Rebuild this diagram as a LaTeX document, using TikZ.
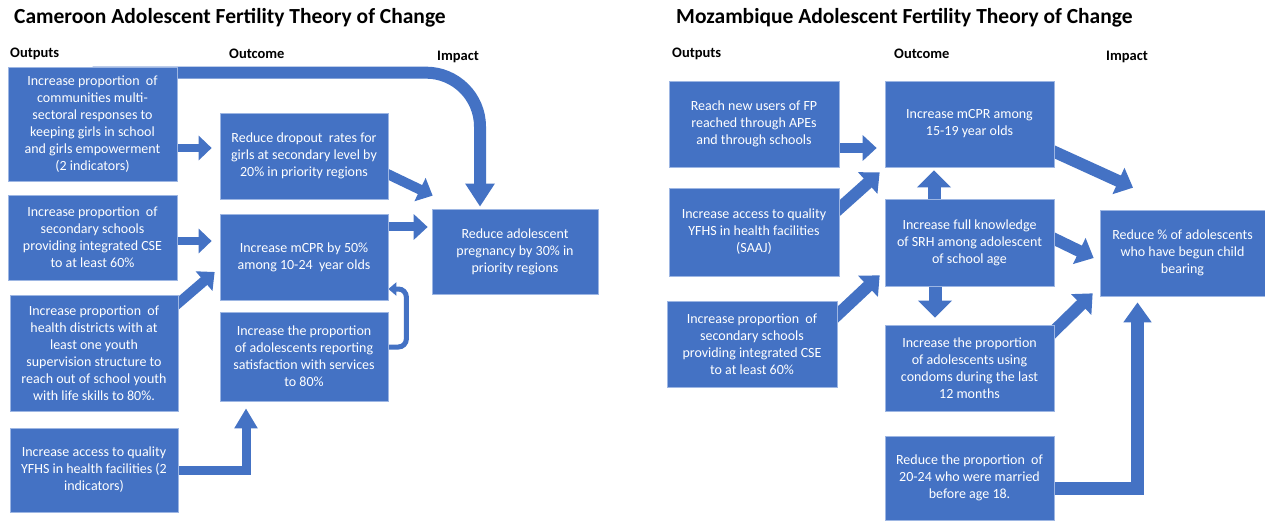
\documentclass[tikz,border=0pt]{standalone}
\usepackage{fontspec}
\setmainfont{Carlito}
\usetikzlibrary{arrows.meta,backgrounds,calc}
\definecolor{boxblue}{HTML}{4472C4}
\definecolor{edgeblue}{HTML}{9DB6E3}
\tikzset{
  box/.style={fill=boxblue, draw=edgeblue, line width=0.7pt, text=white, align=center,
    inner sep=0pt, font=\fontsize{14}{17}\selectfont},
  title/.style={anchor=west, inner sep=0pt, font=\fontsize{21.5}{24}\selectfont\bfseries},
  head/.style={anchor=west, inner sep=0pt, font=\fontsize{14.5}{16}\selectfont\bfseries},
  fat/.style={draw=boxblue, line width=10pt, -{Triangle[width=25pt,length=14pt]}},
  fatter/.style={draw=boxblue, line width=13pt, -{Triangle[width=33pt,length=17pt]}},
  slim/.style={draw=boxblue, line width=5pt, rounded corners=8pt, -{Triangle[width=13pt,length=8pt]}},
}
\begin{document}
\begin{tikzpicture}[x=1pt,y=-1pt]
\useasboundingbox (0,0) rectangle (1265,521);

% titles and headings
\node[title] (t1) at (14,18) {Cameroon Adolescent Fertility Theory of Change};
\node[title] (t2) at (676,18) {Mozambique Adolescent Fertility Theory of Change};
\node[head] (h1) at (10,54) {Outputs};
\node[head] (h2) at (229,54) {Outcome};
\node[head] (h3) at (437,57) {Impact};
\node[head] (h4) at (672,54) {Outputs};
\node[head] (h5) at (894,54) {Outcome};
\node[head] (h6) at (1106,57) {Impact};

% Cameroon boxes
\node[box, minimum width=169pt, minimum height=114pt] (A) at (92.5,124)
  {Increase proportion\ \ of\\communities multi-\\sectoral responses to\\keeping girls in school\\and girls empowerment\\(2 indicators)};
\node[box, minimum width=168pt, minimum height=86pt] (B) at (304,156)
  {Reduce dropout\ \ rates for\\girls at secondary level by\\20\% in priority regions};
\node[box, minimum width=169pt, minimum height=85pt] (C) at (92.5,237.5)
  {Increase proportion\ \ of\\secondary schools\\providing integrated CSE\\to at least 60\%};
\node[box, minimum width=168pt, minimum height=86pt] (D) at (304,257)
  {Increase mCPR by 50\%\\among 10-24\ \ year olds};
\node[box, minimum width=168pt, minimum height=116pt] (E) at (94,353)
  {Increase proportion\ \ of\\health districts with at\\least one youth\\supervision structure to\\reach out of school youth\\with life skills to 80\%.};
\node[box, minimum width=168pt, minimum height=89pt] (F) at (304,356.5)
  {Increase the proportion\\of adolescents reporting\\satisfaction with services\\to 80\%};
\node[box, minimum width=168pt, minimum height=84pt] (G) at (94,470)
  {Increase access to quality\\YFHS in health facilities (2\\indicators)};
\node[box, minimum width=166pt, minimum height=85pt] (H) at (515,251.5)
  {Reduce adolescent\\pregnancy by 30\% in\\priority regions};

% Mozambique boxes
\node[box, minimum width=170pt, minimum height=86pt] (R1) at (754,124)
  {Reach new users of FP\\reached through APEs\\and through schools};
\node[box, minimum width=170pt, minimum height=88pt] (R2) at (754,232)
  {Increase access to quality\\YFHS in health facilities\\(SAAJ)};
\node[box, minimum width=170pt, minimum height=86pt] (R3) at (752,344)
  {Increase proportion\ \ of\\secondary schools\\providing integrated CSE\\to at least 60\%};
\node[box, minimum width=169pt, minimum height=86pt] (R4) at (969.5,124)
  {Increase mCPR among\\15-19 year olds};
\node[box, minimum width=169pt, minimum height=87pt] (R5) at (969.5,242.5)
  {Increase full knowledge\\of SRH among adolescent\\of school age};
\node[box, minimum width=169pt, minimum height=86pt] (R6) at (969.5,368)
  {Increase the proportion\\of adolescents using\\condoms during the last\\12 months};
\node[box, minimum width=169pt, minimum height=84pt] (R8) at (969.5,478)
  {Reduce the proportion\ \ of\\20-24 who were married\\before age 18.};
\node[box, minimum width=165pt, minimum height=86pt] (R7) at (1182.5,253)
  {Reduce \% of adolescents\\who have begun child\\bearing};

\begin{scope}[on background layer]
\fill[white] (0,0) rectangle (1265,521);
% Cameroon connectors
\draw[fat, line width=12pt, rounded corners=54pt, -{Triangle[width=28pt,length=23pt]}, shorten >=2pt]
  ([yshift=-6pt]A.north) -| ([xshift=-35pt]H.north);
\draw[fat, line width=8pt, -{Triangle[width=24pt,length=13pt]}, shorten >=8pt]
  ([yshift=-24pt]A.east) -- ([yshift=-24pt]A.east -| B.west);
\draw[fat, line width=8pt, -{Triangle[width=24pt,length=13pt]}, shorten >=8pt]
  ([yshift=-3.5pt]C.east) -- ([yshift=-3.5pt]C.east -| D.west);
\draw[fat] ([xshift=-4pt,yshift=-12pt]E.north east) -- ([xshift=-5pt,yshift=-15pt]D.west);
\draw[fat] ([xshift=-5pt,yshift=-16pt]B.east) -- ([xshift=1pt,yshift=13pt]H.north west);
\draw[fat, line width=9pt, shorten >=4pt]
  ([yshift=30pt]D.east) -- ([yshift=30pt]D.east -| H.west);
\draw[slim] ([yshift=9.5pt]F.east) -| ([xshift=18pt,yshift=-32pt]D.east) -- ([yshift=-32pt]D.east);
\draw[fat, line width=9pt, -{Triangle[width=22pt,length=20pt]}, shorten >=7pt]
  (G.east) -| ([xshift=-58pt]F.south);
% Mozambique connectors
\draw[fat, shorten >=8pt] ([yshift=-24pt]R1.east) -- ([yshift=-24pt]R1.east -| R4.west);
\draw[fat, line width=12pt, -{Triangle[width=28pt,length=16pt]}]
  ([xshift=-4pt,yshift=20pt]R2.east) -- ([xshift=-5pt,yshift=-5pt]R4.south west);
\draw[fatter, shorten >=3pt] ([xshift=-35.5pt]R5.north) -- ([xshift=-35.5pt]R4.south);
\draw[fatter, shorten >=7pt] ([xshift=-34.5pt]R5.south) -- ([xshift=-34.5pt]R6.north);
\draw[fat, line width=12pt, -{Triangle[width=28pt,length=16pt]}]
  ([xshift=-4pt,yshift=-26pt]R4.east) -- ([xshift=-49.5pt,yshift=22pt]R7.north);
\draw[fat, line width=12pt, -{Triangle[width=28pt,length=16pt]}]
  ([xshift=-4pt,yshift=5.5pt]R5.east) -- ([xshift=-6pt,yshift=-5pt]R7.west);
\draw[fat, line width=12pt, -{Triangle[width=28pt,length=16pt]}]
  ([xshift=-4pt,yshift=-10pt]R6.north east) -- ([xshift=-7pt,yshift=3pt]R7.south west);
\draw[fat, line width=12pt, -{Triangle[width=28pt,length=16pt]}]
  ([xshift=-5pt,yshift=-19pt]R3.north east) -- ([xshift=-5pt,yshift=11pt]R5.south west);
\draw[fat, line width=13pt, -{Triangle[width=27pt,length=20pt]}, shorten >=6pt]
  ([yshift=-10pt]R8.east) -| ([xshift=-45pt]R7.south);
\end{scope}
\end{tikzpicture}
\end{document}
